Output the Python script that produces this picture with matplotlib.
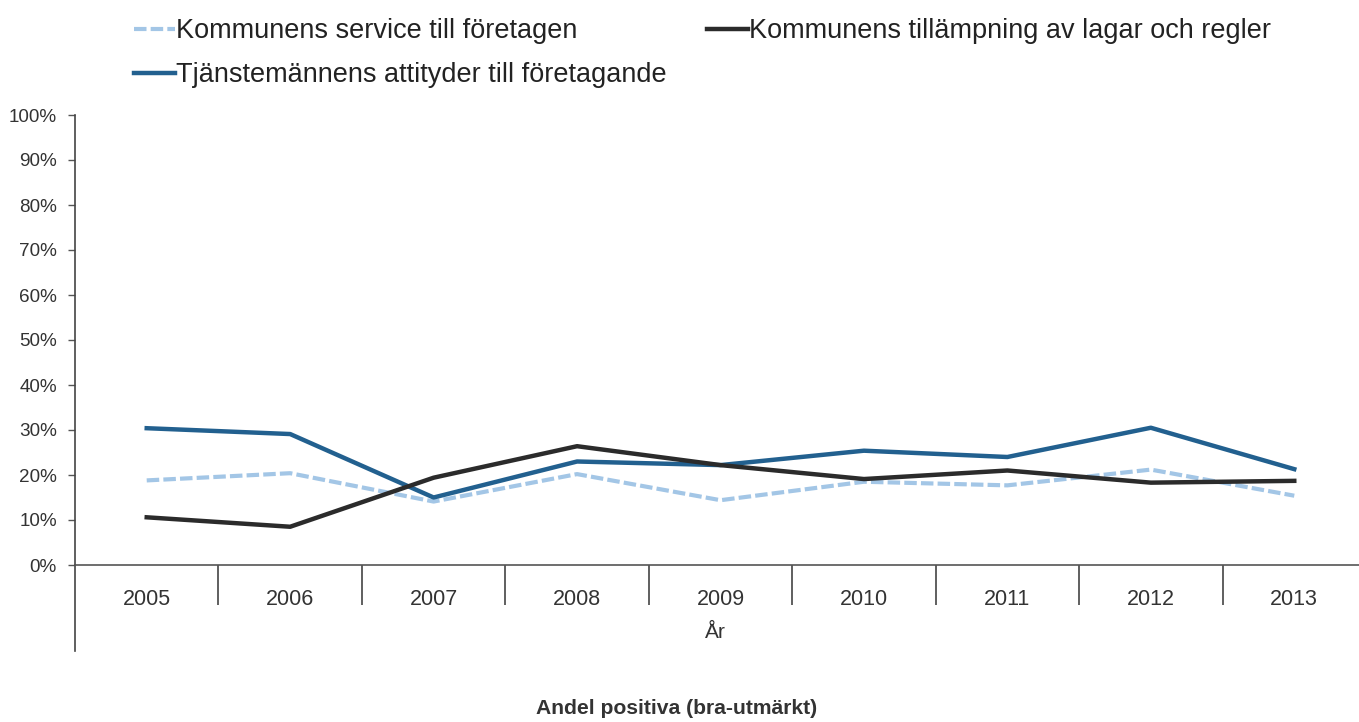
import matplotlib.pyplot as plt
from matplotlib.ticker import PercentFormatter

plt.rcParams['font.family'] = ['Liberation Sans', 'DejaVu Sans']

# Data (share positive, percent)
years = ['2005', '2006', '2007', '2008', '2009', '2010', '2011', '2012', '2013']
service = [18.8, 20.4, 14.1, 20.2, 14.4, 18.5, 17.7, 21.2, 15.4]
tillampning = [10.6, 8.5, 19.4, 26.4, 22.2, 19.1, 21.0, 18.3, 18.7]
attityder = [30.4, 29.1, 15.0, 23.0, 22.2, 25.4, 24.0, 30.5, 21.3]
yticks = [0, 10, 20, 30, 40, 50, 60, 70, 80, 90, 100]

W, H = 1359, 722
fig = plt.figure(figsize=(W / 100, H / 100), dpi=100)
ax = fig.add_axes([75 / W, 1 - 565 / H, (1366 - 75) / W, 450 / H])

x = list(range(len(years)))
l1, = ax.plot(x, service, color='#a3c6e6', lw=3, dashes=(3, 1),
              label='Kommunens service till företagen')
l3, = ax.plot(x, attityder, color='#22608f', lw=3.2,
              label='Tjänstemännens attityder till företagande')
l2, = ax.plot(x, tillampning, color='#2b2b2b', lw=3.2,
              label='Kommunens tillämpning av lagar och regler')
ax.lines[-1].set_zorder(2.5)

ax.set_xlim(-0.5, len(years) - 0.5)
ax.set_ylim(0, 100)
ax.set_yticks(yticks)
ax.yaxis.set_major_formatter(PercentFormatter(decimals=0))
ax.set_xticks(x)
ax.set_xticklabels(years)
ax.set_xticks([i + 0.5 for i in x[:-1]], minor=True)

ax.tick_params(axis='y', length=5, width=1, color='#555555', pad=8,
               labelsize=13.6, labelcolor='#333333')
ax.tick_params(axis='x', which='major', length=0, pad=17,
               labelsize=15.5, labelcolor='#333333')
ax.tick_params(axis='x', which='minor', length=29, width=1.2, color='#444444')

for s in ['top', 'right']:
    ax.spines[s].set_visible(False)
ax.spines['left'].set_color('#444444')
ax.spines['left'].set_linewidth(1.2)
ax.spines['bottom'].set_color('#555555')
ax.spines['bottom'].set_linewidth(1.2)
ax.plot([0, 0], [0, -0.19], transform=ax.transAxes, color='#444444',
        lw=1.2, clip_on=False)

fig.text(715 / W, 1 - 632 / H, 'År', ha='center', va='center',
         fontsize=15, color='#333333')
fig.text(677 / W, 1 - 708 / H, 'Andel positiva (bra-utmärkt)', ha='center',
         va='center', fontsize=15.2, fontweight='bold', color='#333333')

fig.legend(handles=[l1, l3, l2], loc='upper left',
           bbox_to_anchor=(134 / W, 1 - 18 / H), ncol=2, frameon=False,
           fontsize=19.5, handlelength=1.5, handletextpad=0.05,
           columnspacing=1.5, labelspacing=0.68, borderpad=0,
           borderaxespad=0, labelcolor='#222222')

fig.savefig('out.png', dpi=100)
